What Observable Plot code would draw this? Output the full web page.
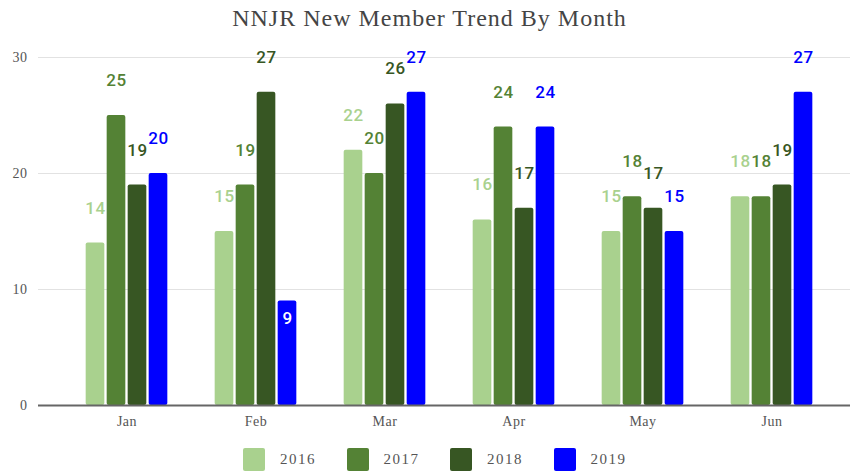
<!DOCTYPE html>
<html>
<head>
<meta charset="utf-8">
<script src="https://cdn.jsdelivr.net/npm/d3@7"></script>
<script src="https://cdn.jsdelivr.net/npm/@observablehq/plot@0.6"></script>
<style>
  html, body { margin: 0; padding: 0; background: #fff; }
  #wrap { width: 853px; height: 472px; position: relative; overflow: hidden; }
  #title { height: 38px; line-height: 36px; text-align: center; font-family: "Liberation Serif", serif; font-size: 24px; letter-spacing: 1px; color: #444; padding-left: 6px; }
  #legend { position: absolute; top: 448px; left: 243px; display: flex; align-items: center; font-family: "Liberation Serif", serif; font-size: 15px; letter-spacing: 1.5px; color: #555; }
  .item { display: flex; align-items: center; width: 103.5px; }
  .sw { width: 22px; height: 23px; border-radius: 2px; margin-right: 15px; }
</style>
</head>
<body>
<div id="wrap">
  <div id="title">NNJR New Member Trend By Month</div>
  <div id="chart"></div>
  <div id="legend"></div>
</div>
<script>
const months = ["Jan", "Feb", "Mar", "Apr", "May", "Jun"];
const series = ["2016", "2017", "2018", "2019"];
const colors = ["#a9d18e", "#548235", "#375623", "#0000ff"];
const v2016 = [14, 15, 22, 16, 15, 18];
const v2017 = [25, 19, 20, 24, 18, 18];
const v2018 = [19, 27, 26, 17, 17, 19];
const v2019 = [20, 9, 27, 24, 15, 27];
const yTicks = [0, 10, 20, 30];

const values = [v2016, v2017, v2018, v2019];
const data = [];
series.forEach((s, k) => months.forEach((m, i) => data.push({month: m, series: s, k, value: values[k][i]})));

const x0 = 60.6, x1 = 836.7;
const step = (x1 - x0) / months.length;
const barW = 19, barGap = 21;
const inset = (step - barW) / 2;

const marks = [
  Plot.ruleY(yTicks.filter(d => d !== 0), {stroke: "#e2e2e2", strokeWidth: 1})
];
series.forEach((s, k) => {
  const sub = data.filter(d => d.k === k);
  const dx = (k - 1.5) * barGap;
  marks.push(Plot.barY(sub, {x: "month", y: "value", fill: colors[k], insetLeft: inset, insetRight: inset, dx, rx: 2}));
  marks.push(Plot.text(sub.filter(d => d.value >= 10), {x: "month", y: "value", text: d => String(d.value), dx, dy: -35, fill: colors[k], fontFamily: "Roboto, sans-serif", fontSize: 17, fontWeight: 500}));
  marks.push(Plot.text(sub.filter(d => d.value < 10), {x: "month", y: "value", text: d => String(d.value), dx, dy: 17, fill: "#ffffff", fontFamily: "Roboto, sans-serif", fontSize: 17, fontWeight: 500}));
});
marks.push(Plot.ruleY([0], {stroke: "#666", strokeWidth: 2}));

const chart = Plot.plot({
  width: 853,
  height: 397,
  marginTop: 19,
  marginBottom: 30,
  marginLeft: 38,
  marginRight: 3,
  style: {fontFamily: "'Liberation Serif', serif", fontSize: "14px", color: "#555", background: "#fff", letterSpacing: "0.5px"},
  x: {domain: months, range: [x0, x1], padding: 0, label: null, tickSize: 0, tickPadding: 11},
  y: {domain: [0, 30], ticks: yTicks, label: null, tickSize: 0, tickPadding: 11},
  marks
});
document.getElementById("chart").appendChild(chart);

const legend = document.getElementById("legend");
series.forEach((s, k) => {
  const it = document.createElement("div");
  it.className = "item";
  const sw = document.createElement("div");
  sw.className = "sw";
  sw.style.background = colors[k];
  const t = document.createElement("span");
  t.textContent = s;
  it.appendChild(sw);
  it.appendChild(t);
  legend.appendChild(it);
});
</script>
</body>
</html>
